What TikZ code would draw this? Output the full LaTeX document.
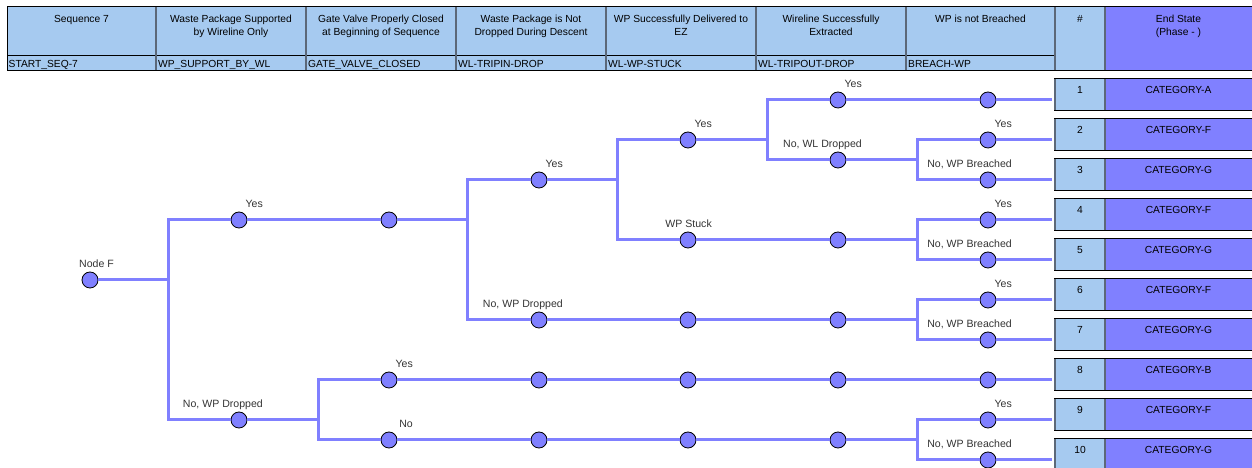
\documentclass[tikz,border=0pt]{standalone}
\usepackage{fontspec}
\setmainfont{Liberation Sans}
\begin{document}
\begin{tikzpicture}[x=1bp,y=-1bp,
  txt/.style={font=\fontsize{10.3}{13}\selectfont, inner sep=0pt, text=black},
  lbl/.style={font=\fontsize{10.6}{13}\selectfont, inner sep=0pt, text=black!80, anchor=base east},
  hdr/.style={txt, align=center, anchor=north},
  dot/.style={circle, fill=pur, draw=black, line width=0.8pt, minimum size=16bp, inner sep=0pt},
  tl/.style={draw=pur, line width=3bp},
  sep/.style={draw=sepc, line width=2bp},
  bl/.style={draw=black, line width=1bp}]
\definecolor{hblue}{HTML}{A6CAF0}
\definecolor{pur}{HTML}{8080FF}
\definecolor{sepc}{HTML}{5C6878}
\useasboundingbox (0,0) rectangle (1252,468);
\clip (0,0) rectangle (1252,468);
% header
\fill[hblue] (7,7) rectangle (1252,71);
\fill[pur] (1105,7) rectangle (1252,71);
\draw[bl] (7,56) -- (1055,56);
\foreach \x in {156,306,456,606,756,906,1055,1105} \draw[sep] (\x,7) -- (\x,71);
\draw[bl] (7,7) -- (1252,7) (7,71) -- (1252,71) (7,7) -- (7,71);
\node[hdr] (h1) at (81.5,12.9) {\strut Sequence 7};
\node[hdr] (h2) at (231,12.9) {\strut Waste Package Supported\\\strut by Wireline Only};
\node[hdr] (h3) at (381,12.9) {\strut Gate Valve Properly Closed\\\strut at Beginning of Sequence};
\node[hdr] (h4) at (531,12.9) {\strut Waste Package is Not\\\strut Dropped During Descent};
\node[hdr] (h5) at (681,12.9) {\strut WP Successfully Delivered to\\\strut EZ};
\node[hdr] (h6) at (831,12.9) {\strut Wireline Successfully\\\strut Extracted};
\node[hdr] (h7) at (980.5,12.9) {\strut WP is not Breached};
\node[hdr] (h8) at (1080,12.9) {\strut \#};
\node[hdr] (h9) at (1178.5,12.9) {\strut End State\\\strut (Phase - )};
\node[txt,anchor=base west] (k1) at (8.5,68) {START\_SEQ-7};
\node[txt,anchor=base west] (k2) at (158,68) {WP\_SUPPORT\_BY\_WL};
\node[txt,anchor=base west] (k3) at (308,68) {GATE\_VALVE\_CLOSED};
\node[txt,anchor=base west] (k4) at (458,68) {WL-TRIPIN-DROP};
\node[txt,anchor=base west] (k5) at (608,68) {WL-WP-STUCK};
\node[txt,anchor=base west] (k6) at (758,68) {WL-TRIPOUT-DROP};
\node[txt,anchor=base west] (k7) at (908,68) {BREACH-WP};
% end state boxes
\foreach \i/\cat in {1/A,2/F,3/G,4/F,5/G,6/F,7/G,8/B,9/F,10/G} {
  \pgfmathsetmacro\t{79+40*(\i-1)}
  \fill[hblue] (1055,\t) rectangle (1105,\t+32);
  \fill[pur] (1105,\t) rectangle (1252,\t+32);
  \draw[sep] (1055,\t) -- (1055,\t+32) (1105,\t) -- (1105,\t+32);
  \draw[bl] (1054,\t) -- (1252,\t) (1054,\t+32) -- (1252,\t+32);
  \node[txt,anchor=base] (num\i) at (1080,\t+15) {\i};
  \node[txt,anchor=base] (cat\i) at (1178.5,\t+15) {CATEGORY-\cat};
  \coordinate (r\i) at (1052,\t+21);
}
% tree nodes
\node[dot] (nF) at (90,280) {};
\node[dot] (a1) at (239,220) {};
\node[dot] (a2) at (389,220) {};
\node[dot] (b1) at (239,420) {};
\node[dot] (c1) at (539,180) {};
\node[dot] (c2) at (539,320) {};
\node[dot] (d1) at (688,140) {};
\node[dot] (d2) at (688,240) {};
\node[dot] (e1) at (838,100) {};
\node[dot] (e2) at (838,160) {};
\node[dot] (f1) at (988,100) {};
\node[dot] (f2) at (988,140) {};
\node[dot] (f3) at (988,180) {};
\node[dot] (e3) at (838,240) {};
\node[dot] (f4) at (988,220) {};
\node[dot] (f5) at (988,260) {};
\node[dot] (d3) at (688,320) {};
\node[dot] (e4) at (838,320) {};
\node[dot] (f6) at (988,300) {};
\node[dot] (f7) at (988,340) {};
\node[dot] (c3) at (389,380) {};
\node[dot] (c4) at (389,440) {};
\node[dot] (d4) at (539,380) {};
\node[dot] (d5) at (688,380) {};
\node[dot] (e5) at (838,380) {};
\node[dot] (f8) at (988,380) {};
\node[dot] (d6) at (539,440) {};
\node[dot] (d7) at (688,440) {};
\node[dot] (e6) at (838,440) {};
\node[dot] (f9) at (988,420) {};
\node[dot] (f10) at (988,460) {};
% branch points
\coordinate (j1) at (168,280);
\coordinate (j2) at (467,220);
\coordinate (j3) at (617,180);
\coordinate (j4) at (767,140);
\coordinate (j5) at (917,160);
\coordinate (j6) at (917,240);
\coordinate (j7) at (917,320);
\coordinate (j8) at (318,420);
\coordinate (j9) at (917,440);
% connectors
\draw[tl] (nF) -- (j1);
\draw[tl] (j1) |- (a1); \draw[tl] (j1) |- (b1);
\draw[tl] (a1) -- (a2); \draw[tl] (a2) -- (j2);
\draw[tl] (j2) |- (c1); \draw[tl] (j2) |- (c2);
\draw[tl] (c1) -- (j3);
\draw[tl] (j3) |- (d1); \draw[tl] (j3) |- (d2);
\draw[tl] (d1) -- (j4);
\draw[tl] (j4) |- (e1); \draw[tl] (j4) |- (e2);
\draw[tl] (e1) -- (f1); \draw[tl] (f1) -- (r1);
\draw[tl] (e2) -- (j5);
\draw[tl] (j5) |- (f2); \draw[tl] (j5) |- (f3);
\draw[tl] (f2) -- (r2); \draw[tl] (f3) -- (r3);
\draw[tl] (d2) -- (e3); \draw[tl] (e3) -- (j6);
\draw[tl] (j6) |- (f4); \draw[tl] (j6) |- (f5);
\draw[tl] (f4) -- (r4); \draw[tl] (f5) -- (r5);
\draw[tl] (c2) -- (d3); \draw[tl] (d3) -- (e4); \draw[tl] (e4) -- (j7);
\draw[tl] (j7) |- (f6); \draw[tl] (j7) |- (f7);
\draw[tl] (f6) -- (r6); \draw[tl] (f7) -- (r7);
\draw[tl] (b1) -- (j8);
\draw[tl] (j8) |- (c3); \draw[tl] (j8) |- (c4);
\draw[tl] (c3) -- (d4); \draw[tl] (d4) -- (d5); \draw[tl] (d5) -- (e5); \draw[tl] (e5) -- (f8); \draw[tl] (f8) -- (r8);
\draw[tl] (c4) -- (d6); \draw[tl] (d6) -- (d7); \draw[tl] (d7) -- (e6); \draw[tl] (e6) -- (j9);
\draw[tl] (j9) |- (f9); \draw[tl] (j9) |- (f10);
\draw[tl] (f9) -- (r9); \draw[tl] (f10) -- (r10);
% labels
\node[lbl] (lnF) at ([shift={(24,-12)}]nF.center) {Node F};
\node[lbl] (la1) at ([shift={(24,-12)}]a1.center) {Yes};
\node[lbl] (lb1) at ([shift={(24,-12)}]b1.center) {No, WP Dropped};
\node[lbl] (lc1) at ([shift={(24,-12)}]c1.center) {Yes};
\node[lbl] (lc2) at ([shift={(24,-12)}]c2.center) {No, WP Dropped};
\node[lbl] (ld1) at ([shift={(24,-12)}]d1.center) {Yes};
\node[lbl] (ld2) at ([shift={(24,-12)}]d2.center) {WP Stuck};
\node[lbl] (le1) at ([shift={(24,-12)}]e1.center) {Yes};
\node[lbl] (le2) at ([shift={(24,-12)}]e2.center) {No, WL Dropped};
\node[lbl] (lf2) at ([shift={(24,-12)}]f2.center) {Yes};
\node[lbl] (lf3) at ([shift={(24,-12)}]f3.center) {No, WP Breached};
\node[lbl] (lf4) at ([shift={(24,-12)}]f4.center) {Yes};
\node[lbl] (lf5) at ([shift={(24,-12)}]f5.center) {No, WP Breached};
\node[lbl] (lf6) at ([shift={(24,-12)}]f6.center) {Yes};
\node[lbl] (lf7) at ([shift={(24,-12)}]f7.center) {No, WP Breached};
\node[lbl] (lc3) at ([shift={(24,-12)}]c3.center) {Yes};
\node[lbl] (lc4) at ([shift={(24,-12)}]c4.center) {No};
\node[lbl] (lf9) at ([shift={(24,-12)}]f9.center) {Yes};
\node[lbl] (lf10) at ([shift={(24,-12)}]f10.center) {No, WP Breached};
\end{tikzpicture}
\end{document}
